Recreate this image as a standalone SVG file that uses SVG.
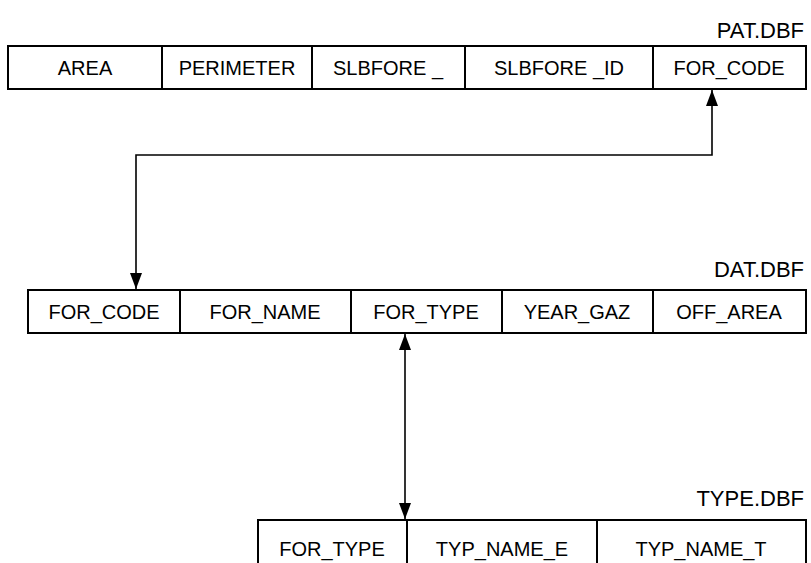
<svg xmlns="http://www.w3.org/2000/svg" width="811" height="563" viewBox="0 0 811 563">
<style>
.box{fill:#fff;stroke:#000;stroke-width:2}
.div{stroke:#000;stroke-width:2}
.cell{font-family:"Liberation Sans",Arial,sans-serif;font-size:20px;fill:#000;text-anchor:middle}
.title{font-family:"Liberation Sans",Arial,sans-serif;font-size:22px;fill:#000;text-anchor:end}
.conn{fill:none;stroke:#000;stroke-width:1.6}
</style>
<defs>
<marker id="arr" viewBox="0 0 16 12" refX="16" refY="6" markerWidth="16" markerHeight="12" markerUnits="userSpaceOnUse" orient="auto-start-reverse">
<path d="M0,0 L16,6 L0,12 z" fill="#000"/>
</marker>
</defs>
<rect width="811" height="563" fill="#fff"/>
<g id="pat">
<text class="title" x="804" y="38">PAT.DBF</text>
<rect class="box" x="8" y="46" width="798" height="43"/>
<line class="div" x1="162" y1="46" x2="162" y2="89"/>
<line class="div" x1="312" y1="46" x2="312" y2="89"/>
<line class="div" x1="465" y1="46" x2="465" y2="89"/>
<line class="div" x1="653" y1="46" x2="653" y2="89"/>
<text class="cell" x="85" y="75">AREA</text>
<text class="cell" x="237" y="75">PERIMETER</text>
<text class="cell" x="388" y="75">SLBFORE _</text>
<text class="cell" x="559" y="75">SLBFORE _ID</text>
<text class="cell" x="729" y="75">FOR_CODE</text>
</g>
<g id="dat">
<text class="title" x="804" y="277">DAT.DBF</text>
<rect class="box" x="28" y="290" width="778" height="43"/>
<line class="div" x1="180" y1="290" x2="180" y2="333"/>
<line class="div" x1="351" y1="290" x2="351" y2="333"/>
<line class="div" x1="502" y1="290" x2="502" y2="333"/>
<line class="div" x1="653" y1="290" x2="653" y2="333"/>
<text class="cell" x="104" y="319">FOR_CODE</text>
<text class="cell" x="265" y="319">FOR_NAME</text>
<text class="cell" x="426" y="319">FOR_TYPE</text>
<text class="cell" x="577" y="319">YEAR_GAZ</text>
<text class="cell" x="729" y="319">OFF_AREA</text>
</g>
<g id="type">
<text class="title" x="804" y="506">TYPE.DBF</text>
<rect class="box" x="258" y="520" width="548" height="60"/>
<line class="div" x1="407" y1="520" x2="407" y2="580"/>
<line class="div" x1="597" y1="520" x2="597" y2="580"/>
<text class="cell" x="332" y="556">FOR_TYPE</text>
<text class="cell" x="502" y="556">TYP_NAME_E</text>
<text class="cell" x="701" y="556">TYP_NAME_T</text>
</g>
<g id="connectors">
<path class="conn" d="M712,90 L712,155 L136,155 L136,289" marker-start="url(#arr)" marker-end="url(#arr)"/>
<path class="conn" d="M405,334 L405,519" marker-start="url(#arr)" marker-end="url(#arr)"/>
</g>
</svg>
